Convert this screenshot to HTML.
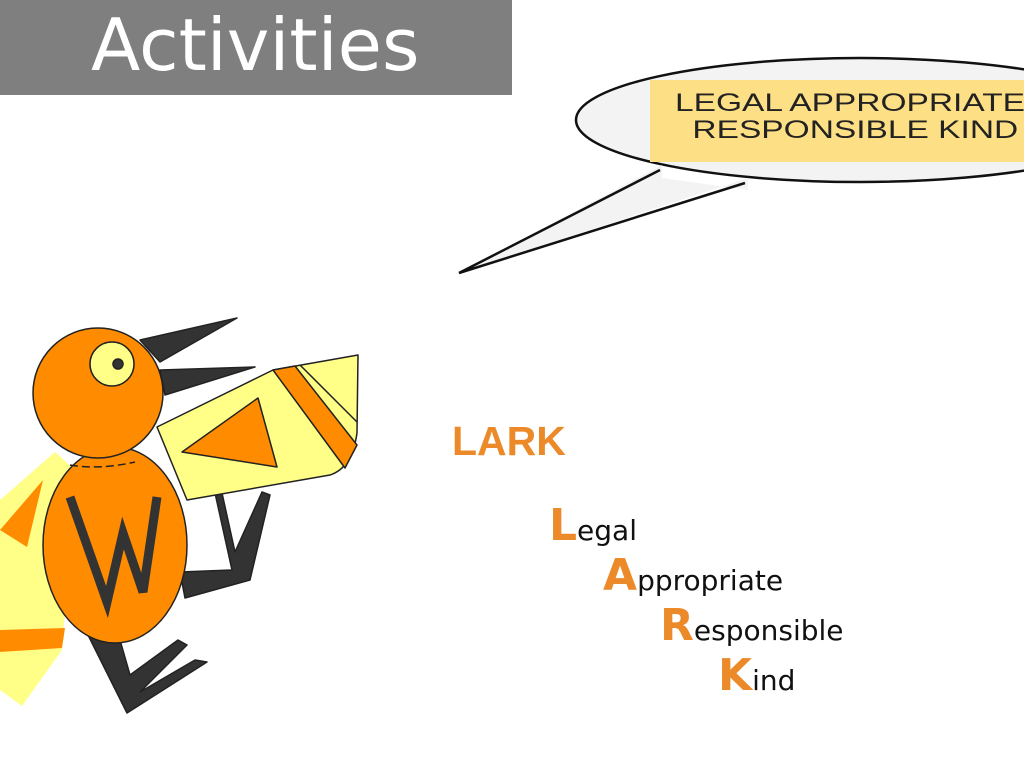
<!DOCTYPE html>
<html><head><meta charset="utf-8"><style>
html,body{margin:0;padding:0;width:1024px;height:768px;overflow:hidden;background:#fff;position:relative;font-family:"Liberation Sans",sans-serif}
.t{position:absolute;white-space:nowrap}
.b{font-size:44px;color:#ec8a2a;font-weight:bold}
</style></head><body>
<div style="position:absolute;left:0;top:0;width:512px;height:95px;background:#7f7f7f"></div>
<div class="t" style="left:91px;top:2px;font-family:'DejaVu Sans',sans-serif;font-size:72px;color:#fff;line-height:86px">Activities</div>
<svg width="1024" height="768" style="position:absolute;left:0;top:0">
 <ellipse cx="860" cy="120" rx="284" ry="62" fill="#f3f3f3" stroke="#111" stroke-width="2.5"/>
 <polygon points="662,165 459,273 748,178 748,190 662,178" fill="#f3f3f3"/>
 <polyline points="660,170 459,273 745,183" fill="none" stroke="#111" stroke-width="2.5" stroke-linejoin="miter"/>
 <rect x="650" y="80" width="374" height="82" fill="#fddf85"/>
 <g stroke="#222" stroke-width="1.5" stroke-linejoin="round">
  <polygon points="0,500 55,452 75,470 62,650 22,706 0,690" fill="#ffff88" stroke="none"/>
  <polygon points="0,530 43,480 27,547" fill="#ff8c00" stroke="none"/>
  <polygon points="0,630 65,628 62,648 0,652" fill="#ff8c00" stroke="none"/>
  <polygon points="215,493 222,493 235,552 262,492 270,495 250,580 185,598 180,572 232,570" fill="#333"/>
  <polygon points="87,633 127,713 207,662 195,660 140,692 187,645 178,640 130,675 118,633" fill="#333"/>
  <polygon points="140,340 237,318 160,362" fill="#333"/>
  <polygon points="160,370 255,367 165,395" fill="#333"/>
  <path d="M157,427 L273,370 L358,355 L357,433 Q352,468 330,475 L187,500 Z" fill="#ffff88"/>
  <polygon points="182,452 258,398 277,467" fill="#ff8c00"/>
  <polygon points="273,370 295,366 357,445 345,468" fill="#ff8c00"/>
  <line x1="300" y1="365" x2="357" y2="422"/>
  <ellipse cx="115" cy="545" rx="72" ry="98" fill="#ff8c00"/>
  <circle cx="98" cy="393" r="65" fill="#ff8c00"/>
  <circle cx="112" cy="364" r="22" fill="#ffff88"/>
  <circle cx="118" cy="364" r="5" fill="#333"/>
  <path d="M70,465 Q100,470 135,462" fill="none" stroke-dasharray="8 4"/>
  <polyline points="70,497 107,602 123,533 143,592 157,497" fill="none" stroke="#333" stroke-width="9" stroke-linejoin="miter"/>
 </g>
</svg>
<div class="t" style="left:675px;top:90px;font-size:25px;color:#222;line-height:27px;transform:scaleX(1.34);transform-origin:0 0">LEGAL APPROPRIATE<br><span style="padding-left:13px">RESPONSIBLE KIND</span></div>
<div class="t" style="left:452px;top:418px;font-size:41px;font-weight:bold;color:#ec8a2a">LARK</div>
<div class="t" style="left:549px;top:500px;font-family:'DejaVu Sans',sans-serif;font-size:28px;color:#111"><span class="b">L</span>egal</div>
<div class="t" style="left:603px;top:550px;font-family:'DejaVu Sans',sans-serif;font-size:28px;color:#111"><span class="b">A</span>ppropriate</div>
<div class="t" style="left:660px;top:600px;font-family:'DejaVu Sans',sans-serif;font-size:28px;color:#111"><span class="b">R</span>esponsible</div>
<div class="t" style="left:718px;top:650px;font-family:'DejaVu Sans',sans-serif;font-size:28px;color:#111"><span class="b">K</span>ind</div>
</body></html>
